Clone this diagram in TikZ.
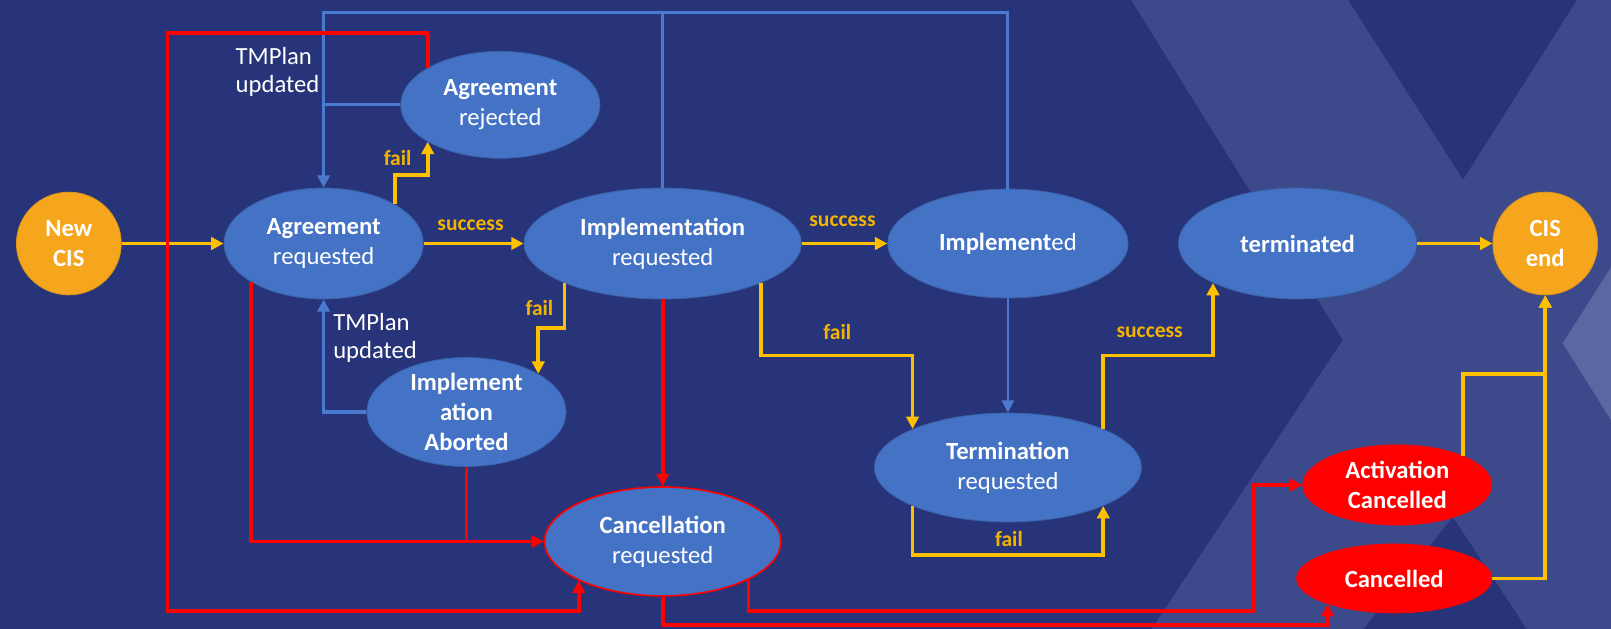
\documentclass[tikz,border=0pt]{standalone}
\usepackage{fontspec}
\setmainfont{Carlito}
\usetikzlibrary{shapes.geometric,arrows.meta}
\definecolor{bgdark}{HTML}{283479}
\definecolor{bglight}{HTML}{3C4A8B}
\definecolor{bgvlight}{HTML}{5A67A1}
\definecolor{nodeblue}{HTML}{4472C4}
\definecolor{lineblue}{HTML}{4A7AD0}
\definecolor{lineyellow}{HTML}{FFC000}
\definecolor{linered}{HTML}{FF0000}
\definecolor{cisorange}{HTML}{F5A61C}
\definecolor{labelorange}{HTML}{F2B400}
\begin{document}
\begin{tikzpicture}[x=0.5pt,y=-0.5pt,
  state/.style={ellipse, fill=nodeblue, draw=nodeblue!85!black, line width=0.4pt,
    text=white, align=center, inner sep=0pt, font=\fontsize{12}{14.5}\selectfont},
  cis/.style={state, fill=cisorange, draw=cisorange!90!black, font=\fontsize{12}{14.5}\selectfont\bfseries},
  redstate/.style={state, fill=linered, draw=linered, font=\fontsize{12}{14.5}\selectfont\bfseries},
  tip/.style={-{Triangle[length=6pt,width=6pt]}},
  yline/.style={draw=lineyellow, line width=1.8pt},
  rline/.style={draw=linered, line width=1.8pt},
  bline/.style={draw=lineblue, line width=1.5pt},
  lbl/.style={text=labelorange, inner sep=0pt, font=\fontsize{10.5}{12}\selectfont\bfseries},
  note/.style={text=white, align=left, inner sep=0pt, font=\fontsize{12}{14}\selectfont}
]
\useasboundingbox (0,0) rectangle (1568,612);
% background
\fill[bgdark] (0,0) rectangle (1568,612);
\fill[bglight] (1101,0) -- (1312,0) -- (1424,175) -- (1535,0) -- (1568,0) -- (1568,612)
  -- (1486,612) -- (1414,503) -- (1327,612) -- (1121,612) -- (1307,331) -- cycle;
\fill[bgvlight] (1568,260) -- (1521,334) -- (1568,409) -- cycle;

% nodes
\node[cis, minimum width=51pt, minimum height=50pt] (NewCIS) at (67,237) {New\\CIS};
\node[state, minimum width=97pt, minimum height=54pt] (AgReq) at (315,237) {{\bfseries Agreement}\\requested};
\node[state, minimum width=97pt, minimum height=52pt] (AgRej) at (487,102) {{\bfseries Agreement}\\rejected};
\node[state, minimum width=135pt, minimum height=54pt] (ImplReq) at (645,237) {{\bfseries Implementation}\\requested};
\node[state, minimum width=117pt, minimum height=53pt] (Impd) at (981,237) {{\bfseries Implement}ed};
\node[state, minimum width=116pt, minimum height=54pt] (Term) at (1263,237) {\bfseries terminated};
\node[cis, minimum width=51pt, minimum height=50pt] (CISend) at (1504,237) {CIS\\end};
\node[state, inner ysep=-2pt, minimum width=97pt, minimum height=53pt, font=\fontsize{12}{14.5}\selectfont\bfseries] (Abort) at (454,401) {Implement\\ation\\Aborted};
\node[state, draw=linered, line width=0.8pt, minimum width=115pt, minimum height=53pt] (CancReq) at (645,527) {{\bfseries Cancellation}\\requested};
\node[state, minimum width=130pt, minimum height=53pt] (TermReq) at (981,455) {{\bfseries Termination}\\requested};
\node[redstate, minimum width=92pt, minimum height=39pt] (ActCanc) at (1360,472) {Activation\\Cancelled};
\node[redstate, minimum width=95pt, minimum height=33.5pt] (Canc) at (1357,563) {Cancelled};

% blue connectors
\draw[bline, tip] (Impd.north) |- (AgReq.north |- 0,12) -- (AgReq.north);
\draw[bline] (ImplReq.north) -- (ImplReq.north |- 0,12);
\draw[bline] (AgRej.west) -- (AgReq.north |- AgRej.west);
\draw[bline, tip] (Abort.west) -| (AgReq.south);
\draw[bline, line width=1pt, tip] (Impd.south) -- (TermReq.north);

% yellow connectors
\draw[yline, tip] (NewCIS.east) -- (AgReq.west);
\draw[yline, tip] (AgReq.east) -- (ImplReq.west);
\draw[yline, tip] (AgReq.29) -- (AgReq.29 |- 0,170) -| (AgRej.207);
\draw[yline, tip] (ImplReq.east) -- (Impd.west);
\draw[yline, tip] (ImplReq.202) -- (ImplReq.202 |- 0,319) -| (Abort.28);
\draw[yline, tip] (ImplReq.338) -- (ImplReq.338 |- 0,346) -| (TermReq.158);
\draw[yline, tip] (TermReq.22) -- (TermReq.22 |- 0,346) -| (Term.205);
\draw[yline, tip] (TermReq.202) -- (TermReq.202 |- 0,540) -| (TermReq.338);
\draw[yline, tip] (Term.east) -- (CISend.west);
\draw[yline, tip] (ActCanc.24) -- (ActCanc.24 |- 0,364) -| (CISend.south);
\draw[yline, tip] (Canc.east) -| (CISend.south);

% red connectors
\draw[rline, tip] (AgRej.153) -- (AgRej.153 |- 0,32) -- (163,32) -- (163,595) -| (CancReq.205);
\draw[rline, tip] (AgReq.208) |- (CancReq.west);
\draw[rline] (Abort.south) -- (Abort.south |- CancReq.west);
\draw[rline, tip] (ImplReq.south) -- (CancReq.north);
\draw[rline, tip] (CancReq.336) |- (1220,595) |- (ActCanc.west);
\draw[rline, tip] (CancReq.south) |- (Canc.201 |- 0,608) -- (Canc.201);

% labels
\node[lbl] (l1) at (458,219) {success};
\node[lbl] (l2) at (820,215) {success};
\node[lbl] (l3) at (387,154) {fail};
\node[lbl] (l4) at (525,300) {fail};
\node[lbl] (l5) at (815,323) {fail};
\node[lbl] (l6) at (1119,323) {success};
\node[lbl] (l7) at (982,525) {fail};
\node[note, anchor=west] (n1) at (229,70) {TMPlan\\updated};
\node[note, anchor=west] (n2) at (324,329) {TMPlan\\updated};
\end{tikzpicture}
\end{document}
